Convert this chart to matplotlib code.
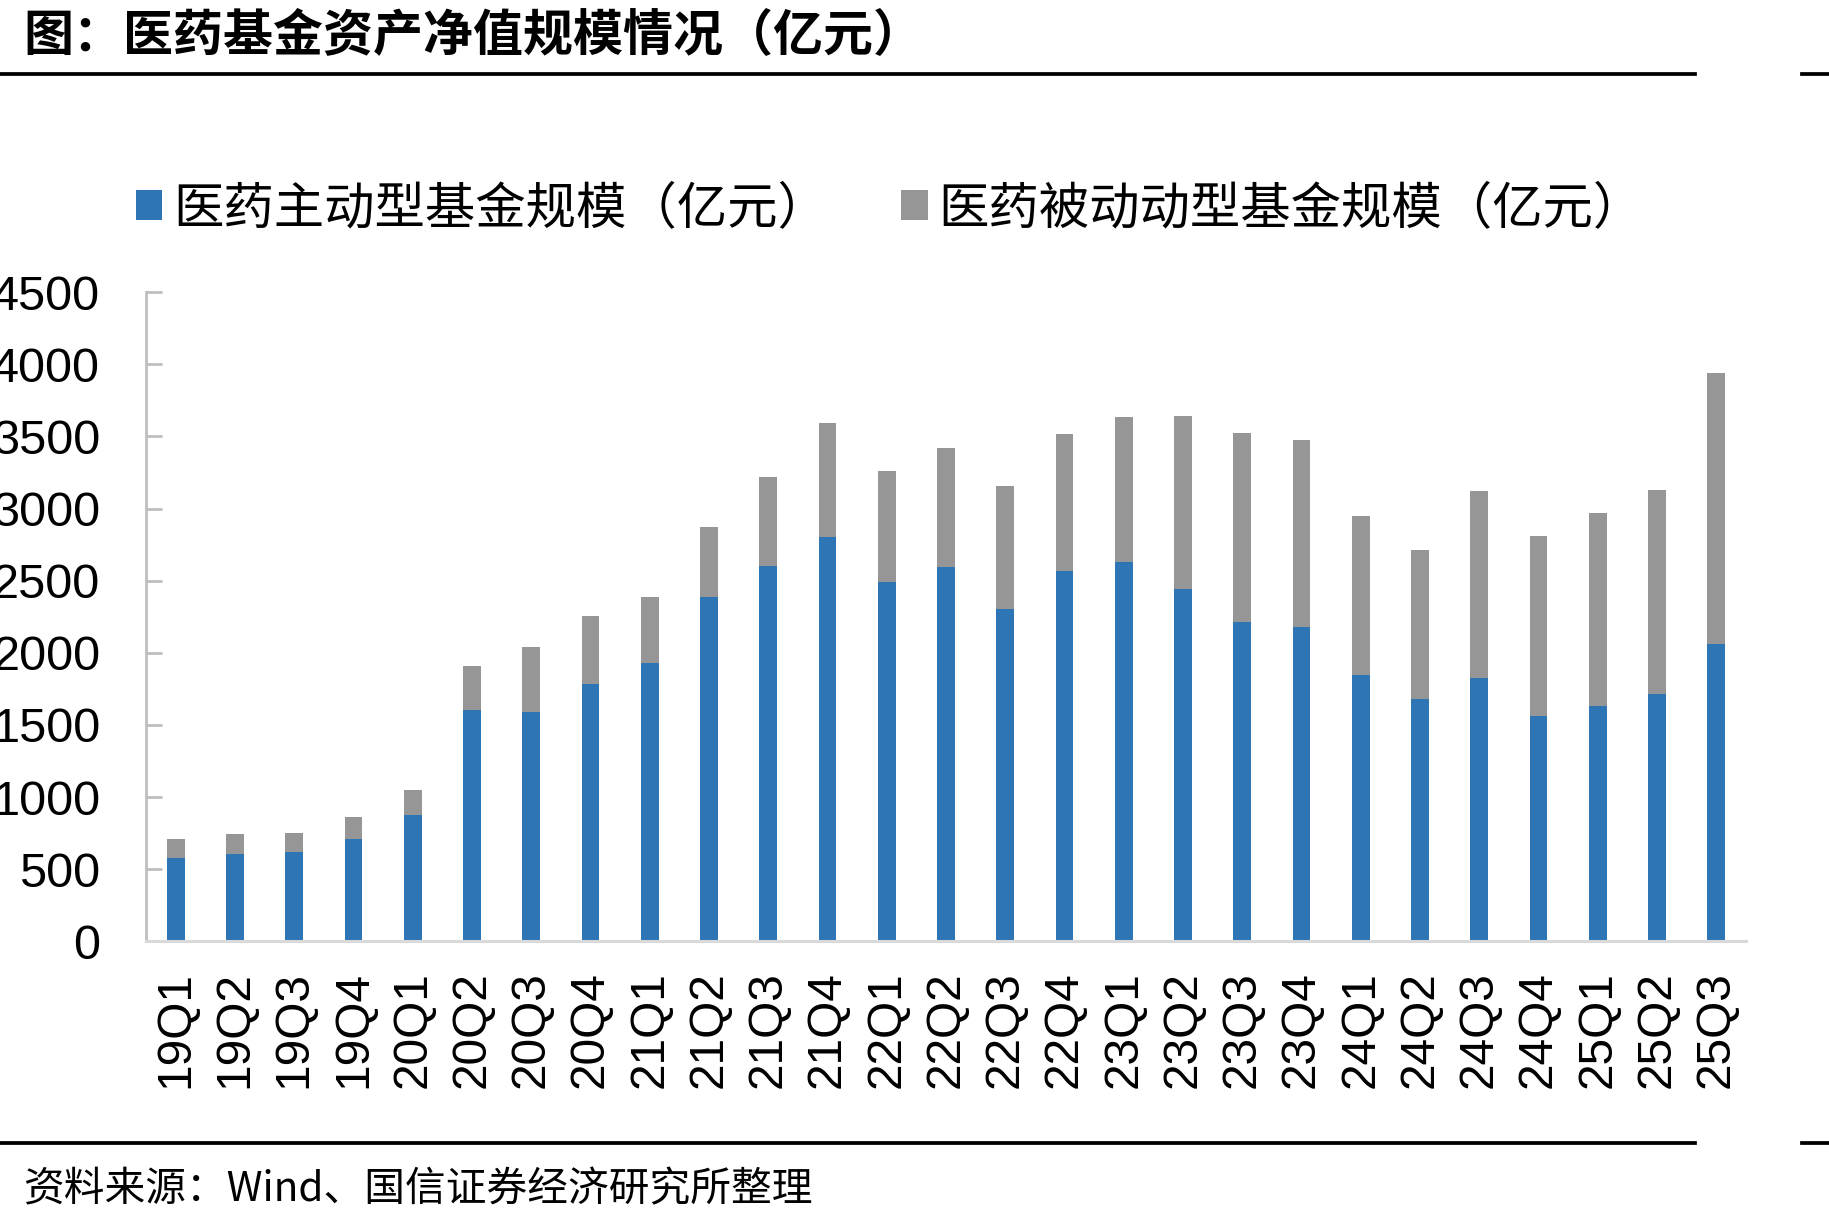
import matplotlib
matplotlib.use("Agg")
import matplotlib.pyplot as plt
from matplotlib.patches import Patch
from matplotlib.lines import Line2D
import numpy as np

categories = ["19Q1", "19Q2", "19Q3", "19Q4", "20Q1", "20Q2", "20Q3", "20Q4",
              "21Q1", "21Q2", "21Q3", "21Q4", "22Q1", "22Q2", "22Q3", "22Q4",
              "23Q1", "23Q2", "23Q3", "23Q4", "24Q1", "24Q2", "24Q3", "24Q4",
              "25Q1", "25Q2", "25Q3"]
active = [578, 608, 622, 712, 874, 1604, 1592, 1782, 1930, 2390, 2604, 2803,
          2494, 2595, 2302, 2570, 2632, 2443, 2214, 2177, 1849, 1680, 1828,
          1565, 1634, 1717, 2064]
total = [710, 744, 754, 860, 1050, 1911, 2043, 2253, 2387, 2870, 3217, 3593,
         3261, 3420, 3154, 3517, 3635, 3640, 3522, 3473, 2951, 2713, 3122,
         2808, 2969, 3127, 3938]
passive = [t - a for t, a in zip(total, active)]
yticks = [0, 500, 1000, 1500, 2000, 2500, 3000, 3500, 4000, 4500]

title = "图：医药基金资产净值规模情况（亿元）"
label_active = "医药主动型基金规模（亿元）"
label_passive = "医药被动动型基金规模（亿元）"
source = "资料来源：Wind、国信证券经济研究所整理"

W, H = 1829, 1222
fig = plt.figure(figsize=(W / 100, H / 100), dpi=100)
plt.rcParams['font.family'] = ['Liberation Sans', 'Noto Sans CJK SC']

ax = fig.add_axes([146 / W, 1 - 941.4 / H, (1746 - 146) / W, (941.4 - 292.2) / H])
x = np.arange(len(categories))
blue = "#2E75B6"
grey = "#969696"
ax.bar(x, active, width=0.30, color=blue, zorder=2)
ax.bar(x, passive, width=0.30, bottom=active, color=grey, zorder=2)
ax.set_xlim(-0.5, len(categories) - 0.5)
ax.set_ylim(0, 4500)
ax.set_yticks(yticks)
ax.set_yticklabels([str(v) for v in yticks])
ax.set_xticks(x)
ax.set_xticklabels(categories, rotation=90)

for s in ["top", "right"]:
    ax.spines[s].set_visible(False)
ax.spines["left"].set_color("#BFBFBF")
ax.spines["left"].set_linewidth(2.0)
ax.spines["bottom"].set_color("#D9D9D9")
ax.spines["bottom"].set_linewidth(2.2)
ax.tick_params(axis="y", direction="in", length=11.5, width=2.0, color="#BFBFBF",
               labelsize=35, pad=33, labelcolor="black")
ax.tick_params(axis="x", length=0, labelsize=34.5, pad=21.5, labelcolor="black")

handles = [Patch(facecolor=blue, edgecolor="none"), Patch(facecolor=grey, edgecolor="none")]
fig.legend(handles, [label_active, label_passive], loc="center left",
           bbox_to_anchor=(136 / W, 1 - 209 / H), ncol=2, frameon=False,
           prop={"family": ["Noto Sans CJK SC"], "size": 36.3},
           handlelength=0.52, handleheight=0.52, handletextpad=0.22,
           columnspacing=1.45, borderpad=0, borderaxespad=0)

fig.text(23 / W, 1 - 37 / H, title, fontsize=36, fontweight="bold",
         family=["Noto Sans CJK SC"], va="center", ha="left")
fig.text(23 / W, 1 - 1190 / H, source, fontsize=29.3,
         family=["Noto Sans CJK SC", "DejaVu Sans"], va="center", ha="left")

for yy in (73.5, 1143):
    fig.add_artist(Line2D([0, 1695 / W], [1 - yy / H] * 2, transform=fig.transFigure,
                          color="black", lw=2.7))
    fig.add_artist(Line2D([1802 / W, 1], [1 - yy / H] * 2, transform=fig.transFigure,
                          color="black", lw=2.7))

fig.savefig("out.png", dpi=100)
